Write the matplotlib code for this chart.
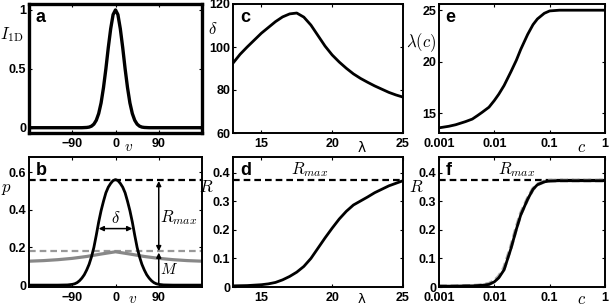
import matplotlib
matplotlib.use("Agg")
import matplotlib.pyplot as plt
import numpy as np

plt.rcParams['font.family'] = ['Liberation Sans', 'DejaVu Sans']
plt.rcParams['mathtext.fontset'] = 'cm'

# ---------------- data ----------------
# panel a: tuning curve I_1D(v)
va = [-180, -70, -65, -60, -55, -50, -45, -40, -35, -30, -25, -20, -15, -10, -5, 0,
      5, 10, 15, 20, 25, 30, 35, 40, 45, 50, 55, 60, 65, 70, 180]
Ia = [0, 0, 0.001, 0.002, 0.005, 0.013, 0.03, 0.063, 0.12, 0.21, 0.34, 0.50, 0.68, 0.84, 0.96, 1.0,
      0.96, 0.84, 0.68, 0.50, 0.34, 0.21, 0.12, 0.063, 0.03, 0.013, 0.005, 0.002, 0.001, 0, 0]

# panel b: response p(v) (black) and baseline (grey)
vb = [-180, -120, -100, -90, -85, -80, -75, -70, -65, -60, -55, -50, -45, -40, -35, -30, -25, -20,
      -15, -10, -5, 0, 5, 10, 15, 20, 25, 30, 35, 40, 45, 50, 55, 60, 65, 70, 75, 80, 85, 90,
      100, 120, 180]
pb = [0, 0, 0.001, 0.004, 0.007, 0.013, 0.023, 0.037, 0.055, 0.08, 0.11, 0.15, 0.20, 0.265, 0.335,
      0.395, 0.445, 0.49, 0.52, 0.54, 0.555, 0.56, 0.555, 0.54, 0.52, 0.49, 0.445, 0.395, 0.335,
      0.265, 0.20, 0.15, 0.11, 0.08, 0.055, 0.037, 0.023, 0.013, 0.007, 0.004, 0.001, 0, 0]
vg = [-180, -150, -120, -90, -60, -30, 0, 30, 60, 90, 120, 150, 180]
pg = [0.127, 0.130, 0.135, 0.142, 0.152, 0.165, 0.177, 0.165, 0.152, 0.142, 0.135, 0.130, 0.127]
p_max = 0.56
p_base = 0.18
delta_half = 35
delta_level = 0.30

# panel c: delta(lambda)
lam = [13, 13.5, 14, 14.5, 15, 15.5, 16, 16.5, 17, 17.5, 18, 18.5, 19, 19.5, 20, 20.5, 21,
       21.5, 22, 22.5, 23, 23.5, 24, 24.5, 25]
delta = [92.5, 96.6, 100, 103.2, 106.4, 109.1, 111.8, 114, 115.4, 115.8, 113.9, 110.2, 105.3,
         100.4, 96.3, 93, 90.1, 87.5, 85.4, 83.6, 81.9, 80.4, 78.9, 77.7, 76.7]

# panel d: R(lambda)
lam_d = [13, 14, 15, 15.5, 16, 16.5, 17, 17.5, 18, 18.5, 19, 19.5, 20, 20.5, 21, 21.5, 22,
         22.5, 23, 23.5, 24, 24.5, 25]
R_d = [0.004, 0.005, 0.008, 0.011, 0.016, 0.025, 0.037, 0.052, 0.072, 0.10, 0.136, 0.172, 0.206,
       0.238, 0.265, 0.287, 0.301, 0.315, 0.330, 0.342, 0.354, 0.363, 0.372]
R_max = 0.373

# panel e / f: lambda(c) and R(c)
c = [0.001, 0.0015, 0.002, 0.003, 0.004, 0.005, 0.006, 0.008, 0.01, 0.012, 0.015, 0.02, 0.025,
     0.03, 0.04, 0.05, 0.06, 0.08, 0.1, 0.15, 1]
lam_c = [13.6, 13.75, 13.9, 14.2, 14.45, 14.8, 15.1, 15.6, 16.25, 16.85, 17.7, 19.05, 20.15,
         21.2, 22.65, 23.6, 24.15, 24.7, 24.93, 25, 25]
R_c = [0.003, 0.003, 0.003, 0.004, 0.004, 0.005, 0.006, 0.009, 0.018, 0.032, 0.06, 0.135, 0.202,
       0.252, 0.307, 0.342, 0.358, 0.368, 0.371, 0.372, 0.372]
R_c_fit = [0.002, 0.002, 0.003, 0.003, 0.004, 0.005, 0.007, 0.011, 0.021, 0.036, 0.066, 0.14,
           0.207, 0.256, 0.309, 0.343, 0.359, 0.369, 0.372, 0.373, 0.373]

# ---------------- figure ----------------
W, H = 610, 306
fig = plt.figure(figsize=(W / 100, H / 100), dpi=100)


def add_ax(x0, x1, ytop, ybot):
    return fig.add_axes([x0 / W, (H - ybot) / H, (x1 - x0) / W, (ybot - ytop) / H])


ax_a = add_ax(29, 202, 4, 133)
ax_c = add_ax(233, 403, 4, 133)
ax_e = add_ax(439, 605, 4, 133)
ax_b = add_ax(29, 202, 157, 287)
ax_d = add_ax(233, 403, 157, 287)
ax_f = add_ax(439, 605, 157, 287)

LW = 2.0
TICK_FS = 9

for ax in [ax_a, ax_b, ax_c, ax_d, ax_e, ax_f]:
    ax.tick_params(direction='in', length=2.5, width=0.8, top=True, right=True,
                   labelsize=TICK_FS, pad=2)
    ax.tick_params(axis='x', pad=3.5)
    for s in ax.spines.values():
        s.set_linewidth(1.4)
for s in ax_a.spines.values():
    s.set_linewidth(2.4)


def letter(ax, t):
    ax.text(0.04, 0.96, t, transform=ax.transAxes, fontsize=13, fontweight='bold',
            ha='left', va='top')


def bold_ticks(ax):
    for lab in ax.get_xticklabels() + ax.get_yticklabels():
        lab.set_fontweight('bold')


# panel a
ax_a.plot(va, Ia, color='k', lw=LW + 0.4)
ax_a.set_xlim(-180, 180)
ax_a.set_ylim(-0.045, 1.05)
ax_a.set_xticks([-90, 0, 90])
ax_a.set_yticks([0, 0.5, 1])
ax_a.set_yticklabels(['0', '0.5', '1'])
letter(ax_a, 'a')
ax_a.text(-0.1, 0.76, r'$I_{\rm 1D}$', transform=ax_a.transAxes, fontsize=12, ha='center', va='center')
ax_a.text(0.575, -0.11, r'$v$', transform=ax_a.transAxes, fontsize=11, ha='center', va='center')

# panel b
ax_b.axhline(p_max, color='k', lw=1.6, ls=(0, (3, 1.8)))
ax_b.axhline(p_base, color='#999999', lw=1.6, ls=(0, (3, 1.8)))
ax_b.plot(vg, pg, color='#888888', lw=LW + 0.3)
ax_b.plot(vb, pb, color='k', lw=LW)
ax_b.annotate('', xy=(-delta_half, delta_level), xytext=(delta_half, delta_level),
              arrowprops=dict(arrowstyle='<|-|>', color='k', lw=1.1, mutation_scale=7, shrinkA=0, shrinkB=0))
ax_b.text(0, delta_level + 0.015, r'$\delta$', fontsize=12, ha='center', va='bottom')
ax_b.annotate('', xy=(90, p_max), xytext=(90, p_base),
              arrowprops=dict(arrowstyle='<|-|>', color='k', lw=1.1, mutation_scale=7, shrinkA=0, shrinkB=1))
ax_b.annotate('', xy=(90, p_base), xytext=(90, 0.004),
              arrowprops=dict(arrowstyle='-|>', color='k', lw=1.1, mutation_scale=7, shrinkA=0, shrinkB=1))
ax_b.text(93, 0.36, r'$R_{max}$', fontsize=12, ha='left', va='center')
ax_b.text(93, 0.085, r'$M$', fontsize=11, ha='left', va='center')
ax_b.set_xlim(-180, 180)
ax_b.set_ylim(-0.01, 0.68)
ax_b.set_xticks([-90, 0, 90])
ax_b.set_yticks([0, 0.2, 0.4, 0.6])
ax_b.set_yticklabels(['0', '0.2', '0.4', '0.6'])
letter(ax_b, 'b')
ax_b.text(-0.13, 0.75, r'$p$', transform=ax_b.transAxes, fontsize=12, ha='center', va='center')
ax_b.text(0.6, -0.09, r'$v$', transform=ax_b.transAxes, fontsize=11, ha='center', va='center')

# panel c
ax_c.plot(lam, delta, color='k', lw=LW)
ax_c.set_xlim(13, 25)
ax_c.set_ylim(60, 120)
ax_c.set_xticks([15, 20, 25])
ax_c.set_yticks([60, 80, 100, 120])
letter(ax_c, 'c')
ax_c.text(-0.12, 0.81, r'$\delta$', transform=ax_c.transAxes, fontsize=12, ha='center', va='center')
ax_c.text(0.757, -0.115, 'λ', transform=ax_c.transAxes, fontsize=10, ha='center', va='center',
          family='DejaVu Sans')

# panel d
ax_d.axhline(R_max, color='k', lw=1.6, ls=(0, (3, 1.8)))
ax_d.plot(lam_d, R_d, color='k', lw=LW)
ax_d.set_xlim(13, 25)
ax_d.set_ylim(0, 0.455)
ax_d.set_xticks([15, 20, 25])
ax_d.set_yticks([0, 0.1, 0.2, 0.3, 0.4])
ax_d.set_yticklabels(['0', '0.1', '0.2', '0.3', '0.4'])
ax_d.text(18.4, 0.379, r'$R_{max}$', fontsize=12, ha='center', va='bottom')
letter(ax_d, 'd')
ax_d.text(-0.16, 0.77, r'$R$', transform=ax_d.transAxes, fontsize=12, ha='center', va='center')
ax_d.text(0.757, -0.095, 'λ', transform=ax_d.transAxes, fontsize=9.5, ha='center', va='center',
          family='DejaVu Sans')

# panel e
ax_e.plot(c, lam_c, color='k', lw=LW)
ax_e.set_xscale('log')
ax_e.set_xlim(0.001, 1)
ax_e.set_ylim(13.1, 25.6)
ax_e.set_xticks([0.001, 0.01, 0.1, 1])
ax_e.set_xticklabels(['0.001', '0.01', '0.1', '1'])
ax_e.xaxis.set_minor_locator(matplotlib.ticker.NullLocator())
ax_e.set_yticks([15, 20, 25])
letter(ax_e, 'e')
ax_e.text(-0.11, 0.70, r'$\lambda(c)$', transform=ax_e.transAxes, fontsize=12, ha='center', va='center')
ax_e.text(0.86, -0.11, r'$c$', transform=ax_e.transAxes, fontsize=12, ha='center', va='center')

# panel f
ax_f.axhline(R_max, color='k', lw=1.6, ls=(0, (3, 1.8)))
ax_f.plot(c, R_c_fit, color='#aaaaaa', lw=LW + 0.8, ls=(0, (2, 1)))
ax_f.plot(c, R_c, color='k', lw=LW)
ax_f.set_xscale('log')
ax_f.set_xlim(0.001, 1)
ax_f.set_ylim(0, 0.455)
ax_f.set_xticks([0.001, 0.01, 0.1, 1])
ax_f.set_xticklabels(['0.001', '0.01', '0.1', '1'])
ax_f.xaxis.set_minor_locator(matplotlib.ticker.NullLocator())
ax_f.set_yticks([0, 0.1, 0.2, 0.3, 0.4])
ax_f.set_yticklabels(['0', '0.1', '0.2', '0.3', '0.4'])
ax_f.text(0.0254, 0.379, r'$R_{max}$', fontsize=12, ha='center', va='bottom')
letter(ax_f, 'f')
ax_f.text(-0.14, 0.77, r'$R$', transform=ax_f.transAxes, fontsize=12, ha='center', va='center')
ax_f.text(0.86, -0.095, r'$c$', transform=ax_f.transAxes, fontsize=12, ha='center', va='center')

for ax in [ax_a, ax_b, ax_c, ax_d, ax_e, ax_f]:
    bold_ticks(ax)

fig.savefig('out.png', dpi=100)
